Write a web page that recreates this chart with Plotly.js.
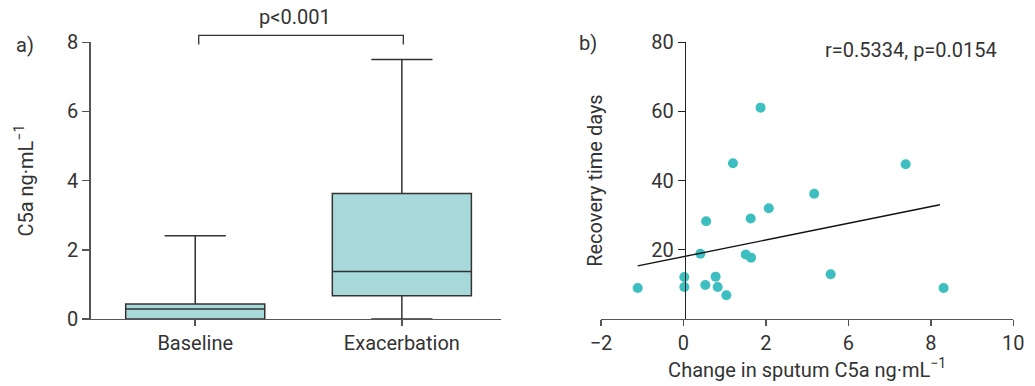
<!DOCTYPE html>
<html>
<head>
<meta charset="utf-8">
<script src="https://cdn.plot.ly/plotly-3.0.1.min.js"></script>
<style>html,body{margin:0;padding:0;background:#fff;}#chart{width:1035px;height:386px;}</style>
</head>
<body>
<div id="chart"></div>
<script>
// Panel a) box plot summary statistics
const groups = ['Baseline', 'Exacerbation'];
const boxLower = [0.0, 0.0];
const boxQ1 = [0.0, 0.67];
const boxMedian = [0.29, 1.37];
const boxQ3 = [0.43, 3.63];
const boxUpper = [2.41, 7.50];
const yTicksA = [0, 2, 4, 6, 8];

// Panel b) scatter: change in sputum C5a vs recovery time
const c5aChange = [-1.11, 0.02, 0.02, 0.41, 0.55, 0.53, 0.78, 0.83, 1.04, 1.20, 1.51, 1.64, 1.63, 1.87, 2.07, 3.17, 3.57, 5.39, 6.31];
const recoveryDays = [8.9, 12.1, 9.2, 18.8, 28.2, 9.8, 12.2, 9.2, 6.8, 45.0, 18.6, 17.7, 29.0, 61.1, 32.0, 36.2, 12.9, 44.7, 8.9];
const fitX = [-1.11, 6.22];
const fitY = [15.3, 33.0];
const xTickVals = [-2, 0, 2, 4, 6, 8];
const xTickText = ['\u22122', '0', '2', '6', '8', '10'];
const yTicksB = [20, 40, 60, 80];

const FONT = 'Roboto, "DejaVu Sans", sans-serif';
const FS = 20;
const TXT = '#333333';
const AX = '#555555';

const traces = [
  {
    type: 'box',
    x: groups,
    q1: boxQ1,
    median: boxMedian,
    q3: boxQ3,
    lowerfence: boxLower,
    upperfence: boxUpper,
    width: 0.673,
    whiskerwidth: 0.44,
    fillcolor: '#a7d9db',
    line: {color: '#333333', width: 1.5},
    boxpoints: false,
    hoverinfo: 'skip',
    xaxis: 'x', yaxis: 'y',
    showlegend: false
  },
  {
    type: 'scatter',
    mode: 'markers',
    x: c5aChange,
    y: recoveryDays,
    marker: {color: '#3dbfc1', size: 10},
    xaxis: 'x2', yaxis: 'y2',
    cliponaxis: false,
    showlegend: false
  },
  {
    type: 'scatter',
    mode: 'lines',
    x: fitX,
    y: fitY,
    line: {color: '#111111', width: 1.4},
    xaxis: 'x2', yaxis: 'y2',
    showlegend: false
  }
];

const layout = {
  width: 1035,
  height: 386,
  margin: {l: 0, r: 0, t: 0, b: 0},
  paper_bgcolor: '#ffffff',
  plot_bgcolor: '#ffffff',
  font: {family: FONT, size: FS, color: TXT},
  showlegend: false,
  xaxis: {
    domain: [0.0876, 0.4841],
    type: 'category',
    range: [-0.506, 1.48],
    showline: true, linecolor: AX, linewidth: 1.5,
    ticks: 'outside', ticklen: 6, tickcolor: AX, tickwidth: 1.5,
    showgrid: false, zeroline: false,
    tickfont: {size: FS, color: TXT},
    anchor: 'y'
  },
  yaxis: {
    domain: [0.1736, 0.8904],
    range: [0, 8],
    tickvals: yTicksA,
    showline: true, linecolor: AX, linewidth: 1.5,
    ticks: 'outside', ticklen: 7, tickcolor: AX, tickwidth: 1.5,
    showgrid: false, zeroline: false,
    tickfont: {size: FS, color: TXT},
    title: {text: 'C5a ng\u00b7mL<sup>\u22121</sup>', font: {size: FS, color: TXT}, standoff: 28},
    anchor: 'x'
  },
  xaxis2: {
    domain: [0.5807, 0.979],
    range: [-2, 8],
    tickvals: xTickVals,
    ticktext: xTickText,
    showline: true, linecolor: AX, linewidth: 1.5,
    ticks: 'outside', ticklen: 6, tickcolor: AX, tickwidth: 1.5,
    showgrid: false, zeroline: false,
    tickfont: {size: FS, color: TXT},
    title: {text: 'Change in sputum C5a ng\u00b7mL<sup>\u22121</sup>', font: {size: FS, color: TXT}, standoff: 8},
    anchor: 'y2'
  },
  yaxis2: {
    domain: [0.1741, 0.8904],
    range: [0, 80],
    tickvals: yTicksB,
    showline: true, linecolor: '#222222', linewidth: 1.5,
    ticks: 'outside', ticklen: 7, tickcolor: '#222222', tickwidth: 1.5,
    showgrid: false, zeroline: false,
    tickfont: {size: FS, color: TXT},
    title: {text: 'Recovery time days', font: {size: FS, color: TXT}, standoff: 42},
    anchor: 'free',
    position: 0.6616
  },
  shapes: [
    {type: 'path', xref: 'paper', yref: 'paper',
     path: 'M 0.192 0.885 L 0.192 0.9085 L 0.3897 0.9085 L 0.3897 0.885',
     line: {color: '#333333', width: 1.3}}
  ],
  annotations: [
    {text: 'p<0.001', xref: 'paper', yref: 'paper', x: 0.285, y: 0.956, xanchor: 'center', yanchor: 'middle', showarrow: false, font: {size: FS, color: TXT}},
    {text: 'a)', xref: 'paper', yref: 'paper', x: 0.024, y: 0.883, xanchor: 'center', yanchor: 'middle', showarrow: false, font: {size: FS, color: TXT}},
    {text: 'b)', xref: 'paper', yref: 'paper', x: 0.568, y: 0.889, xanchor: 'center', yanchor: 'middle', showarrow: false, font: {size: FS, color: TXT}},
    {text: 'r=0.5334, p=0.0154', xref: 'paper', yref: 'paper', x: 0.880, y: 0.870, xanchor: 'center', yanchor: 'middle', showarrow: false, font: {size: FS, color: TXT}}
  ]
};

Plotly.newPlot('chart', traces, layout, {displayModeBar: false, staticPlot: true});
</script>
</body>
</html>
